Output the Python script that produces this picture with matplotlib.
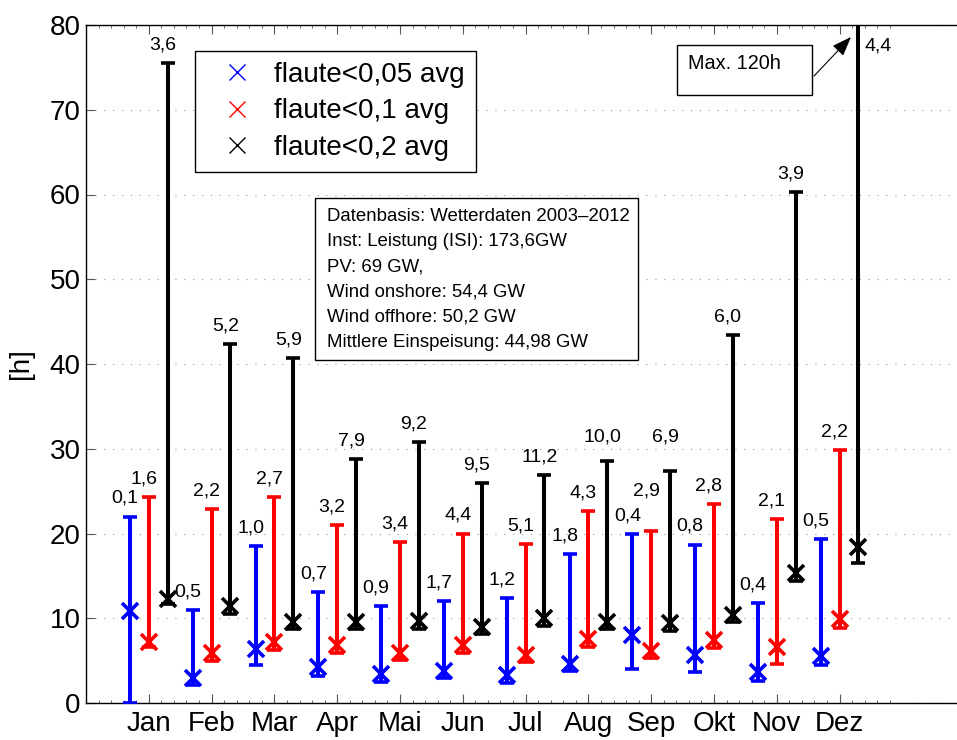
import matplotlib
matplotlib.use('Agg')
import matplotlib.pyplot as plt
from matplotlib.lines import Line2D
from matplotlib.patches import Rectangle
from matplotlib.ticker import FixedLocator
import numpy as np

plt.rcParams['font.family'] = ['Liberation Sans', 'DejaVu Sans']

months = ['Jan', 'Feb', 'Mar', 'Apr', 'Mai', 'Jun', 'Jul', 'Aug', 'Sep', 'Okt', 'Nov', 'Dez']
series_names = ['flaute<0,05 avg', 'flaute<0,1 avg', 'flaute<0,2 avg']
colors = ['#0000ff', '#ff0000', '#000000']

# flaute < 0,05 avg
blue_min = [0.0, 2.1, 4.5, 3.2, 2.5, 3.0, 2.4, 3.8, 4.0, 3.7, 2.6, 4.5]
blue_avg = [10.8, 3.0, 6.4, 4.2, 3.4, 3.8, 3.3, 4.6, 8.0, 5.7, 3.6, 5.5]
blue_max = [22.0, 11.0, 18.5, 13.1, 11.4, 12.0, 12.4, 17.6, 19.9, 18.7, 11.8, 19.4]
blue_lbl = ['0,1', '0,5', '1,0', '0,7', '0,9', '1,7', '1,2', '1,8', '0,4', '0,8', '0,4', '0,5']

# flaute < 0,1 avg
red_min = [6.6, 4.9, 6.3, 5.9, 5.1, 5.9, 4.8, 6.6, 5.3, 6.5, 4.6, 8.8]
red_avg = [7.2, 5.9, 7.2, 6.8, 5.9, 6.8, 5.7, 7.6, 6.1, 7.4, 6.6, 9.9]
red_max = [24.3, 22.9, 24.3, 21.0, 19.0, 20.0, 18.8, 22.6, 20.3, 23.5, 21.7, 29.9]
red_lbl = ['1,6', '2,2', '2,7', '3,2', '3,4', '4,4', '5,1', '4,3', '2,9', '2,8', '2,1', '2,2']

# flaute < 0,2 avg
black_min = [11.7, 10.5, 8.7, 8.7, 8.7, 8.1, 9.1, 8.7, 8.5, 9.5, 14.4, 16.5]
black_avg = [12.3, 11.4, 9.6, 9.6, 9.7, 9.0, 10.0, 9.5, 9.4, 10.4, 15.3, 18.4]
black_max = [75.5, 42.4, 40.7, 28.8, 30.8, 26.0, 26.9, 28.6, 27.4, 43.4, 60.3, 120.0]
black_lbl = ['3,6', '5,2', '5,9', '7,9', '9,2', '9,5', '11,2', '10,0', '6,9', '6,0', '3,9', '4,4']

info_lines = ['Datenbasis: Wetterdaten 2003\u20132012',
              'Inst: Leistung (ISI): 173,6GW',
              'PV: 69 GW,',
              'Wind onshore: 54,4 GW',
              'Wind offhore: 50,2 GW',
              'Mittlere Einspeisung: 44,98 GW']
max_note = 'Max. 120h'

# extra vertical nudges for a few value labels (series index, month index) -> data units
label_nudge = {(1, 8): 2.6, (2, 8): 1.8, (2, 7): 0.7}

W, H = 957, 740
def fx(p):
    return p / W
def fy(p):
    return 1 - p / H

fig = plt.figure(figsize=(W / 100, H / 100), dpi=100)
# axes runs to the right edge of the picture (the original axis continues beyond it)
ax = fig.add_axes([fx(86), fy(703), (W - 86) / W, 678 / H])

x = np.arange(1, 13)
offsets = [-0.3, 0.0, 0.3]
series = [(blue_min, blue_avg, blue_max, blue_lbl),
          (red_min, red_avg, red_max, red_lbl),
          (black_min, black_avg, black_max, black_lbl)]
ymax = 80

for si, ((mn, av, mx, lb), off, c) in enumerate(zip(series, offsets, colors)):
    mn = np.array(mn); av = np.array(av); mx = np.array(mx)
    xi = x + off
    ax.errorbar(xi, av, yerr=[av - mn, mx - av], fmt='x', color=c, ms=11, mew=2.6,
                elinewidth=2.9, capsize=4.7, capthick=2.9, zorder=3)
    for mi, (xv, top, t) in enumerate(zip(xi, mx, lb)):
        if top > ymax:
            ax.text(xv + 0.1, ymax - 2.5, t, ha='left', va='center', fontsize=14, zorder=4)
        else:
            ax.text(xv - 0.08, top + 1.6 + label_nudge.get((si, mi), 0), t,
                    ha='center', va='baseline', fontsize=14, zorder=4)

xmax = (W - 86) / 62.8
ax.set_xlim(0, xmax)
ax.set_ylim(0, ymax)
ax.set_xticks(x)
ax.set_xticklabels(months)
ax.set_yticks(np.arange(0, 81, 10))
minor = [v for v in np.arange(0.2, 13.0, 0.2) if abs(v - round(v)) > 1e-6]
ax.xaxis.set_minor_locator(FixedLocator(minor))
ax.tick_params(axis='both', which='major', direction='in', length=6.5, width=0.8,
               color='#555555', labelsize=20, top=True, right=False)
ax.tick_params(axis='x', which='major', pad=6)
ax.tick_params(axis='y', which='major', pad=4)
ax.tick_params(axis='x', which='minor', direction='in', length=2.5, width=0.6,
               color='#555555', top=True)
for s in ax.spines.values():
    s.set_linewidth(1.0)
    s.set_color('black')
ax.spines['right'].set_visible(False)
ax.patch.set_visible(False)

ax.set_axisbelow(True)
ax.yaxis.grid(True, linestyle=(0, (1, 7)), color='#999999', lw=0.8)

ax.set_ylabel('[h]', fontsize=20)
ax.yaxis.set_label_coords(-86 / (W - 86) * 0.6, 0.5)

handles = [Line2D([], [], ls='none', marker='x', color=c, ms=12, mew=1) for c in colors]
leg = ax.legend(handles, series_names, loc='upper left', bbox_to_anchor=(fx(195), fy(50.7)),
                bbox_transform=fig.transFigure, fontsize=20, frameon=True, fancybox=False,
                edgecolor='black', framealpha=1, borderaxespad=0, borderpad=0.4,
                labelspacing=0.38, handlelength=2.2, handletextpad=0.25)
leg.get_frame().set_linewidth(1.0)

# info box
rect = Rectangle((fx(315), fy(360)), (638 - 315) / W, (360 - 198) / H, transform=fig.transFigure,
                 facecolor='white', edgecolor='black', lw=1.0, zorder=5)
ax.add_artist(rect)
for i, line in enumerate(info_lines):
    ax.text(fx(327), fy(220.7 + i * 25.2), line, transform=fig.transFigure, fontsize=13.4,
            va='baseline', ha='left', zorder=6)

# max note box
rect2 = Rectangle((fx(677), fy(95)), (812 - 677) / W, (95 - 45) / H, transform=fig.transFigure,
                  facecolor='white', edgecolor='black', lw=1.0, zorder=5)
ax.add_artist(rect2)
ax.text(fx(688), fy(69), max_note, transform=fig.transFigure, fontsize=14.3,
        va='baseline', ha='left', zorder=6)
ax.annotate('', xy=(fx(851), fy(37)), xycoords='figure fraction',
            xytext=(fx(814), fy(76)), textcoords='figure fraction',
            arrowprops=dict(arrowstyle='-|>,head_length=0.8,head_width=0.3', lw=0.8,
                            color='k', shrinkA=0, shrinkB=0, mutation_scale=15),
            annotation_clip=False)

fig.savefig('out.png', dpi=100)
